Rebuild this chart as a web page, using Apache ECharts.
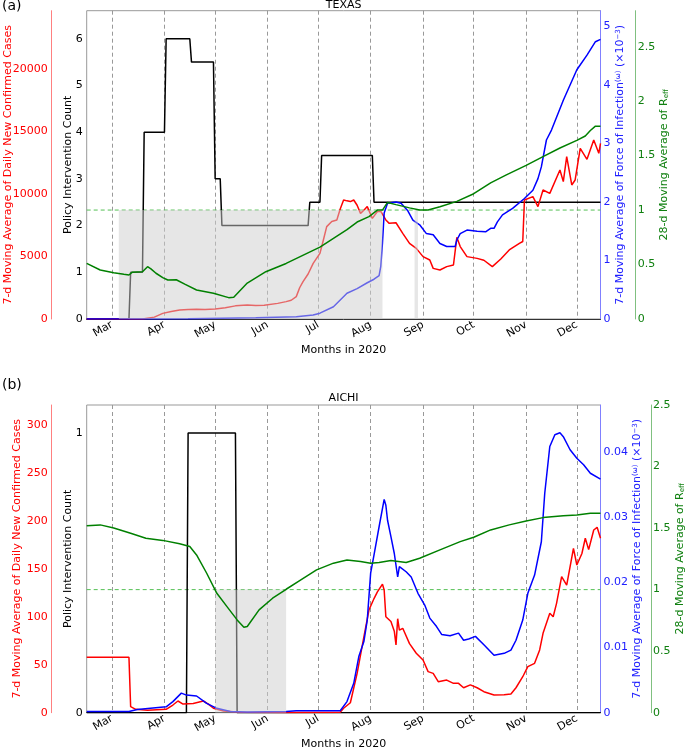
<!DOCTYPE html>
<html>
<head>
<meta charset="utf-8">
<script src="https://cdn.jsdelivr.net/npm/echarts@6/dist/echarts.min.js"></script>
<style>html,body{margin:0;padding:0;background:#fff}#c{width:685px;height:748px}</style>
</head>
<body>
<div id="c"></div>
<script>
// ---- x categories: days from 15 Feb 2020 to 15 Dec 2020 ----
const START_DATE = '2020-02-15';
const N_DAYS = 305;
const MONTH_NAMES = ['Jan','Feb','Mar','Apr','May','Jun','Jul','Aug','Sep','Oct','Nov','Dec'];

// ---- tick labels ----
const TX_POLICY_TICKS = [0,1,2,3,4,5,6];
const TX_CASES_TICKS = [0,5000,10000,15000,20000];
const TX_FOI_TICKS = [0,1,2,3,4,5];
const TX_REFF_TICKS = [0,0.5,1,1.5,2,2.5];
const AI_POLICY_TICKS = [0,1];
const AI_CASES_TICKS = [0,50,100,150,200,250,300];
const AI_FOI_TICKS = [0,0.01,0.02,0.03,0.04];
const AI_REFF_TICKS = [0,0.5,1,1.5,2,2.5];
const REFF_THRESHOLD = 1;

// ---- TEXAS data: [day since 15 Feb, value] ----
const txPolicy = [[0,0],[25,0],[26,1],[33,1],[34,4],[46,4],[47,6],[61,6],[62,5.5],[75,5.5],[76,3],[79,3],[80,2],[131,2],[132,2.5],[138,2.5],[139,3.5],[169,3.5],[170,2.5],[304,2.5]];
const txCases = [[0,0],[33,0],[40,150],[45,450],[50,600],[55,720],[60,760],[65,770],[70,760],[76,800],[82,900],[88,1050],[95,1120],[100,1080],[105,1100],[113,1250],[118,1390],[121,1500],[124,1790],[126,2500],[128,2990],[131,3600],[134,4450],[138,5250],[140,6300],[142,7390],[145,7800],[148,7920],[150,8800],[152,9520],[154,9450],[156,9390],[158,9520],[160,9100],[162,8450],[164,8700],[166,8990],[169,8050],[172,8590],[174,8600],[175,8720],[177,7920],[179,7650],[183,7700],[187,6850],[191,6050],[195,5650],[199,4990],[203,4720],[205,4050],[209,3920],[213,4190],[217,4320],[218,4200],[219,6530],[221,5790],[225,4990],[231,4850],[235,4700],[240,4190],[245,4800],[250,5520],[256,6050],[258,6200],[259,9520],[264,9790],[267,8990],[270,10320],[274,10050],[280,11920],[282,10990],[284,12990],[287,10720],[289,11120],[292,13650],[296,12770],[300,14320],[303,13250],[304,14050]];
const txFoi = [[0,0],[60,0.005],[100,0.02],[124,0.04],[134,0.07],[138,0.1],[146,0.21],[154,0.44],[160,0.52],[166,0.62],[170,0.68],[173,0.74],[174,0.9],[175,1.3],[176,1.81],[178,1.98],[183,2.0],[186,1.98],[190,1.85],[193,1.69],[197,1.61],[201,1.46],[205,1.44],[209,1.29],[213,1.24],[218,1.24],[219,1.35],[221,1.46],[225,1.52],[231,1.5],[236,1.49],[239,1.55],[241,1.55],[243,1.66],[246,1.78],[252,1.89],[259,2.06],[264,2.2],[267,2.4],[269,2.6],[272,3.06],[275,3.23],[282,3.74],[290,4.26],[296,4.51],[301,4.74],[304,4.78]];
const txReff = [[0,0.51],[8,0.45],[16,0.425],[22,0.41],[25,0.404],[27,0.43],[33,0.434],[36,0.48],[38,0.46],[41,0.42],[45,0.38],[48,0.358],[53,0.36],[58,0.32],[65,0.266],[75,0.236],[84,0.196],[87,0.2],[95,0.33],[106,0.434],[118,0.51],[130,0.6],[138,0.66],[146,0.74],[154,0.82],[160,0.89],[167,0.94],[172,1.0],[175,1.0],[178,1.07],[183,1.05],[191,1.02],[197,1.0],[202,1.0],[209,1.03],[219,1.08],[229,1.15],[239,1.25],[248,1.32],[260,1.41],[270,1.49],[280,1.57],[290,1.64],[295,1.68],[298,1.73],[301,1.77],[304,1.77]];
const txShade = [[19,175],[194,196]];

// ---- AICHI data ----
const aiPolicy = [[0,0],[59,0],[60,1],[88,1],[89,0],[304,0]];
const aiCases = [[0,57.8],[25,57.8],[26,6.3],[29,3.5],[36,2.6],[47,3.5],[51,8],[54,12.2],[57,9],[63,9.7],[69,12.2],[72,9],[75,4.6],[81,1.8],[91,0.4],[120,0.3],[150,0.5],[152,4.6],[156,10.4],[160,41],[164,79],[167,107],[170,119],[172,126],[175,134],[176,128],[177,100],[180,95],[182,85],[183,70.6],[184,98],[185,86],[187,88],[191,72],[195,62],[199,55],[202,42.8],[205,41],[208,32.3],[213,34],[217,30.6],[220,30.6],[223,26],[227,29],[231,26],[235,21.9],[241,18.5],[247,18.8],[251,19.5],[254,26],[258,37.5],[261,48],[265,51.5],[268,65.4],[270,82.8],[274,103.6],[276,100],[278,114],[281,141.8],[284,133],[288,171.4],[290,154],[293,166],[295,181.9],[297,170],[300,190.5],[302,193.3],[304,181.9]];
const aiFoi = [[0,0.0002],[25,0.0002],[30,0.0005],[47,0.0009],[51,0.0017],[56,0.003],[59,0.0027],[65,0.00256],[71,0.00144],[77,0.00067],[85,0.0002],[95,0.0001],[118,0.0002],[124,0.0003],[150,0.0003],[154,0.0017],[158,0.0045],[161,0.0086],[164,0.0109],[166,0.0142],[168,0.0214],[170,0.0242],[173,0.0285],[176,0.0327],[177,0.0318],[178,0.0295],[180,0.027],[182,0.0244],[184,0.0208],[185,0.0224],[189,0.0216],[192,0.0208],[196,0.0183],[200,0.0165],[203,0.0145],[207,0.0132],[210,0.012],[215,0.0118],[220,0.0122],[223,0.0111],[226,0.0113],[230,0.0117],[235,0.0104],[241,0.0088],[247,0.0091],[251,0.0096],[254,0.0111],[258,0.0142],[261,0.0183],[265,0.0211],[269,0.0262],[271,0.0336],[274,0.0408],[277,0.0426],[280,0.0429],[282,0.0423],[286,0.0403],[290,0.039],[294,0.038],[298,0.0367],[304,0.0358]];
const aiReff = [[0,1.518],[8,1.526],[16,1.5],[26,1.458],[35,1.418],[45,1.4],[55,1.372],[61,1.35],[65,1.282],[71,1.133],[77,0.97],[83,0.862],[89,0.754],[93,0.694],[95,0.7],[102,0.835],[110,0.93],[118,1.003],[126,1.073],[136,1.16],[146,1.215],[154,1.241],[162,1.228],[168,1.215],[173,1.22],[180,1.236],[189,1.22],[197,1.255],[209,1.323],[221,1.39],[229,1.426],[239,1.485],[250,1.526],[260,1.558],[270,1.585],[282,1.6],[290,1.607],[298,1.621],[304,1.621]];
const aiShade = [[76,118]];

// ---- build ----
const days = [];
const t0 = Date.parse(START_DATE + 'T00:00:00Z');
for (let i = 0; i < N_DAYS; i++) days.push(new Date(t0 + i * 86400000).toISOString().slice(0, 10));
const isMonthStart = (i, v) => v.slice(8) === '01';
const toCat = arr => arr.map(p => [days[p[0]], p[1]]);

const FONT = 'DejaVu Sans';
const RED = '#ff0000', BLUE = '#0000ff', GREEN = '#008000';

const grids = [
  {left: 86.7, top: 10.7, width: 513.8, height: 308.3},
  {left: 86.7, top: 405, width: 513.8, height: 307.7}
];

function xAxis(g) {
  return {
    type: 'category', gridIndex: g, data: days, boundaryGap: false,
    axisLine: {show: true, lineStyle: {color: '#333', width: 1}},
    axisTick: {show: false},
    axisLabel: {interval: isMonthStart, rotate: 30, margin: 5, fontSize: 11, fontFamily: FONT, color: '#000',
      formatter: v => MONTH_NAMES[parseInt(v.slice(5, 7), 10) - 1]},
    splitLine: {show: true, interval: isMonthStart, lineStyle: {type: [4, 3], color: '#999', width: 1}},
    name: 'Months in 2020', nameLocation: 'middle', nameGap: 26, nameMoveOverlap: false,
    nameTextStyle: {fontSize: 11, fontFamily: FONT, color: '#000'}
  };
}

function yAxis(g, opt) {
  return {
    type: 'value', gridIndex: g, min: 0, max: opt.max, position: opt.position, offset: opt.offset || 0,
    axisLine: {show: opt.line !== undefined, onZero: false, lineStyle: {color: opt.line, width: 1}},
    axisTick: {show: false, customValues: opt.ticks},
    axisLabel: {customValues: opt.ticks, margin: opt.margin || 3, fontSize: 11, fontFamily: FONT, color: opt.color,
      formatter: v => String(v)},
    splitLine: {show: false},
    name: opt.name, nameLocation: 'middle', nameGap: opt.nameGap, nameRotate: 90, nameMoveOverlap: false,
    nameTextStyle: {fontSize: 11, fontFamily: FONT, color: opt.color, rich: {
      sup: {fontSize: 7, fontFamily: FONT, color: opt.color, verticalAlign: 'top', lineHeight: 8},
      sub: {fontSize: 7, fontFamily: FONT, color: opt.color, verticalAlign: 'bottom', lineHeight: 8}
    }}
  };
}

const CASES_NAME = '7-d Moving Average of Daily New Confirmed Cases';
const FOI_NAME = '7-d Moving Average of Force of Infection{sup|(ω)} (×10{sup|−3})';
const REFF_NAME = '28-d Moving Average of R{sub|eff}';
const POLICY_NAME = 'Policy Intervention Count';

// per panel: axis maxima, tick lists, and axis-placement layout
const panels = [
  {max: [6.6, 24660, 5.27, 2.83], ticks: [TX_POLICY_TICKS, TX_CASES_TICKS, TX_FOI_TICKS, TX_REFF_TICKS],
   redGap: 38.5, blueGap: 14.5, greenOffset: 35.2, greenGap: 22.5},
  {max: [1.1, 320.8, 0.04716, 2.5], ticks: [AI_POLICY_TICKS, AI_CASES_TICKS, AI_FOI_TICKS, AI_REFF_TICKS],
   redGap: 28.7, blueGap: 31.5, greenOffset: 50.5, greenGap: 24}
];

const yAxes = [];
panels.forEach((p, g) => {
  yAxes.push(yAxis(g, {max: p.max[0], position: 'left', ticks: p.ticks[0], color: '#000', name: POLICY_NAME, nameGap: 13, margin: 4}));
  yAxes.push(yAxis(g, {max: p.max[1], position: 'left', offset: 35, ticks: p.ticks[1], color: RED, line: '#ff8080', name: CASES_NAME, nameGap: p.redGap, margin: 4}));
  yAxes.push(yAxis(g, {max: p.max[2], position: 'right', ticks: p.ticks[2], color: '#2020ff', line: '#8080ff', name: FOI_NAME, nameGap: p.blueGap, margin: 3}));
  yAxes.push(yAxis(g, {max: p.max[3], position: 'right', offset: p.greenOffset, ticks: p.ticks[3], color: '#108010', line: '#80c080', name: REFF_NAME, nameGap: p.greenGap, margin: 2}));
});

function lineSeries(g, yi, data, color, z, extra) {
  return Object.assign({
    type: 'line', xAxisIndex: g, yAxisIndex: g * 4 + yi, data: toCat(data), symbol: 'none',
    lineStyle: {color: color, width: 1.5}, itemStyle: {color: color}, z: z, silent: true
  }, extra || {});
}

function panelSeries(g, policy, cases, foi, reff, shade) {
  return [
    lineSeries(g, 3, [[0, REFF_THRESHOLD], [N_DAYS - 1, REFF_THRESHOLD]], '#55c055', 1,
      {lineStyle: {color: '#55c055', width: 1, type: [4, 3]}}),
    lineSeries(g, 0, policy, '#000', 2),
    lineSeries(g, 1, cases, RED, 2),
    lineSeries(g, 2, foi, BLUE, 2),
    {
      type: 'line', xAxisIndex: g, yAxisIndex: g * 4 + 3, data: [], symbol: 'none', z: 3, silent: true,
      markArea: {silent: true, z: 3, itemStyle: {color: 'rgba(205,205,205,0.5)'},
        data: shade.map(s => [{coord: [days[s[0]], 0]}, {coord: [days[s[1]], 1]}])}
    },
    lineSeries(g, 3, reff, GREEN, 4)
  ];
}

const chart = echarts.init(document.getElementById('c'), null, {renderer: 'canvas'});
chart.setOption({
  animation: false,
  backgroundColor: '#fff',
  grid: grids.map(g => Object.assign({show: true, borderColor: '#999', borderWidth: 1, backgroundColor: 'transparent', containLabel: false, outerBoundsMode: 'none'}, g)),
  xAxis: [xAxis(0), xAxis(1)],
  yAxis: yAxes,
  series: panelSeries(0, txPolicy, txCases, txFoi, txReff, txShade)
    .concat(panelSeries(1, aiPolicy, aiCases, aiFoi, aiReff, aiShade)),
  graphic: [
    {type: 'text', left: 2, top: -1, style: {text: '(a)', font: '14px "DejaVu Sans"', fill: '#000'}},
    {type: 'text', left: 2, top: 378, style: {text: '(b)', font: '14px "DejaVu Sans"', fill: '#000'}},
    {type: 'text', x: 343.6, y: 0, style: {text: 'TEXAS', font: '11px "DejaVu Sans"', fill: '#000', textAlign: 'center', textVerticalAlign: 'top'}},
    {type: 'text', x: 343.6, y: 393, style: {text: 'AICHI', font: '11px "DejaVu Sans"', fill: '#000', textAlign: 'center', textVerticalAlign: 'top'}}
  ]
});
</script>
</body>
</html>
